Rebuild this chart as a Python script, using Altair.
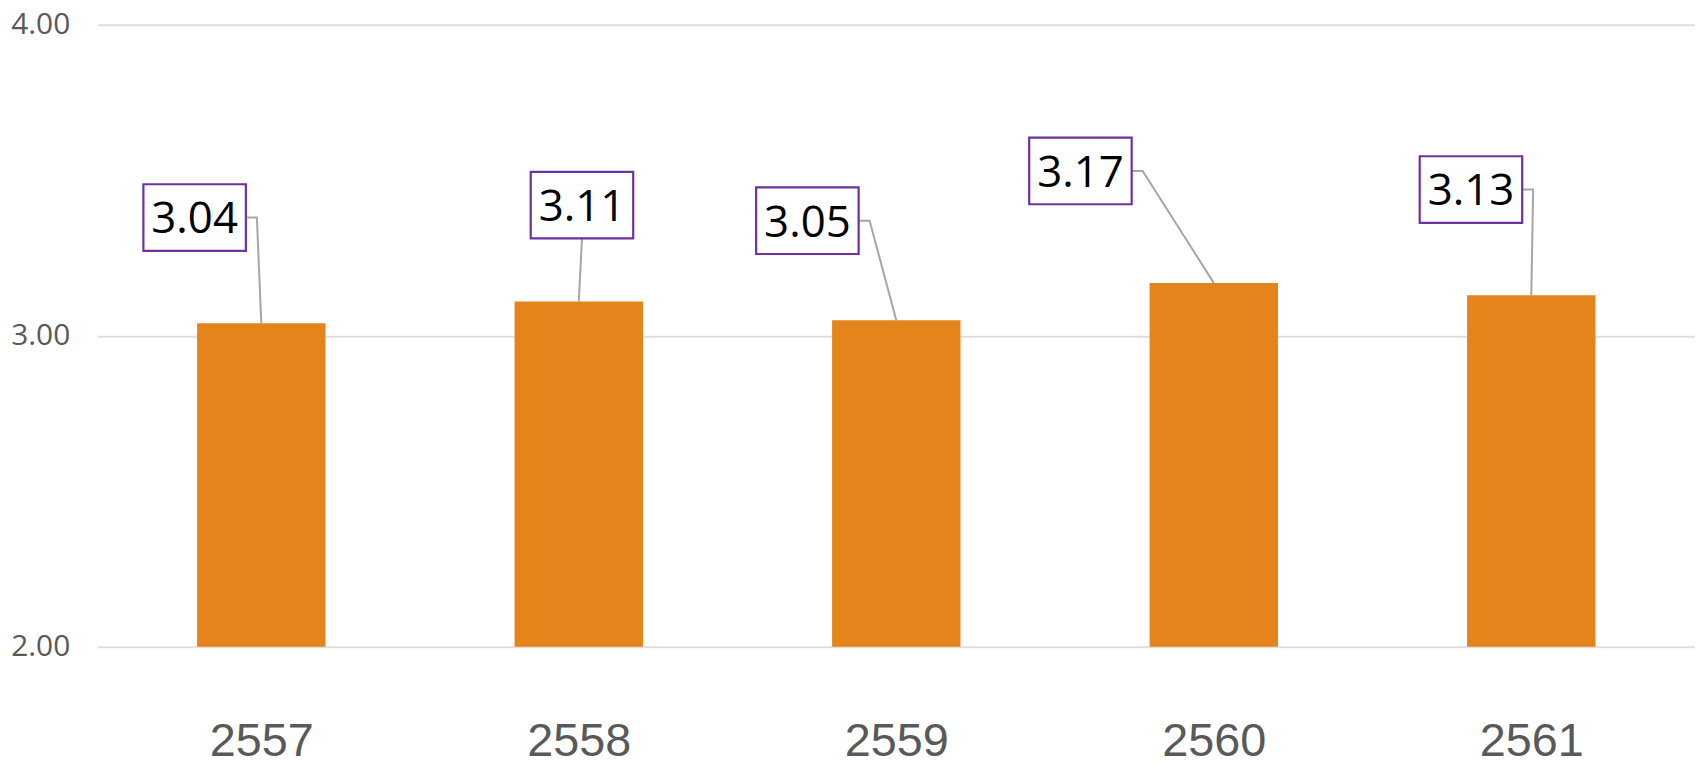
import json
import altair as alt
import pandas as pd

years = ["2557", "2558", "2559", "2560", "2561"]
values = [3.04, 3.11, 3.05, 3.17, 3.13]
# annotation placement: box centre (value units) and horizontal shift (category units)
label_value = [3.38, 3.42, 3.37, 3.53, 3.47]
label_shift = [-0.21, 0.01, -0.28, -0.42, -0.19]

idx = list(range(len(years)))
df = pd.DataFrame({
    "i": idx,
    "year": years,
    "value": values,
    "ly": label_value,
    "lx": [i + s for i, s in zip(idx, label_shift)],
})

HW = 0.16   # half box width, category units
HH = 0.107  # half box height, value units
ELBOW = 0.036

rows = []
for i, y, v, lx, ly in zip(idx, years, values, df["lx"], label_value):
    if abs(lx - i) < HW:
        sx, sy = lx, ly - HH
        rows += [(y, 0, sx, sy), (y, 1, sx, sy), (y, 2, i, v)]
    else:
        sx, sy = lx + HW, ly
        rows += [(y, 0, sx, sy), (y, 1, sx + ELBOW, sy), (y, 2, i, v)]
leaders = pd.DataFrame(rows, columns=["year", "seq", "x", "y"])

x_scale = alt.Scale(domain=[-0.5, 4.5], nice=False, zero=False)
y_scale = alt.Scale(domain=[2, 4], nice=False, zero=False)

label_expr = json.dumps(years) + "[datum.value]"

x_axis = alt.Axis(values=idx, labelExpr=label_expr, grid=False, domain=False, ticks=False,
                  tickSize=0, labelFontSize=47, labelColor="#595959", labelFont="Liberation Sans",
                  labelPadding=72, title=None)
y_axis = alt.Axis(values=[2, 3, 4], format=".2f", grid=True, gridColor="#DEDEDE", gridWidth=2,
                  domain=False, ticks=False, tickSize=0, labelPadding=28, labelFontSize=30,
                  labelFont="Open Sans", labelColor="#595959", minExtent=90, maxExtent=90, title=None)

base = alt.Chart(df)

bars = base.mark_bar(width=129, color="#E5841A").encode(
    x=alt.X("i:Q", scale=x_scale, axis=x_axis),
    y=alt.Y("value:Q", scale=y_scale, axis=y_axis),
    y2=alt.Y2(datum=2),
)

lines = alt.Chart(leaders).mark_line(color="#A6A6A6", strokeWidth=2).encode(
    x=alt.X("x:Q", scale=x_scale),
    y=alt.Y("y:Q", scale=y_scale),
    detail="year:N",
    order="seq:Q",
)

ratio = 51.5 / 33.5
box_path = f"M-{ratio:.3f},-1H{ratio:.3f}V1H-{ratio:.3f}Z"
boxes = base.mark_point(shape=box_path, size=67 * 67, filled=True, fill="white",
                        stroke="#7030A0", strokeWidth=2.2, opacity=1).encode(
    x=alt.X("lx:Q", scale=x_scale),
    y=alt.Y("ly:Q", scale=y_scale),
)

texts = base.mark_text(font="Open Sans", fontSize=44, color="black", baseline="middle",
                       align="center", dy=3).encode(
    x=alt.X("lx:Q", scale=x_scale),
    y=alt.Y("ly:Q", scale=y_scale),
    text=alt.Text("value:Q", format=".2f"),
)

chart = alt.layer(bars, lines, boxes, texts).properties(
    width=1605, height=625,
    padding={"left": 0, "top": 0, "right": 0, "bottom": 5},
).configure_view(stroke=None)

chart.save("out.html", embed_options={"renderer": "svg", "actions": False})
